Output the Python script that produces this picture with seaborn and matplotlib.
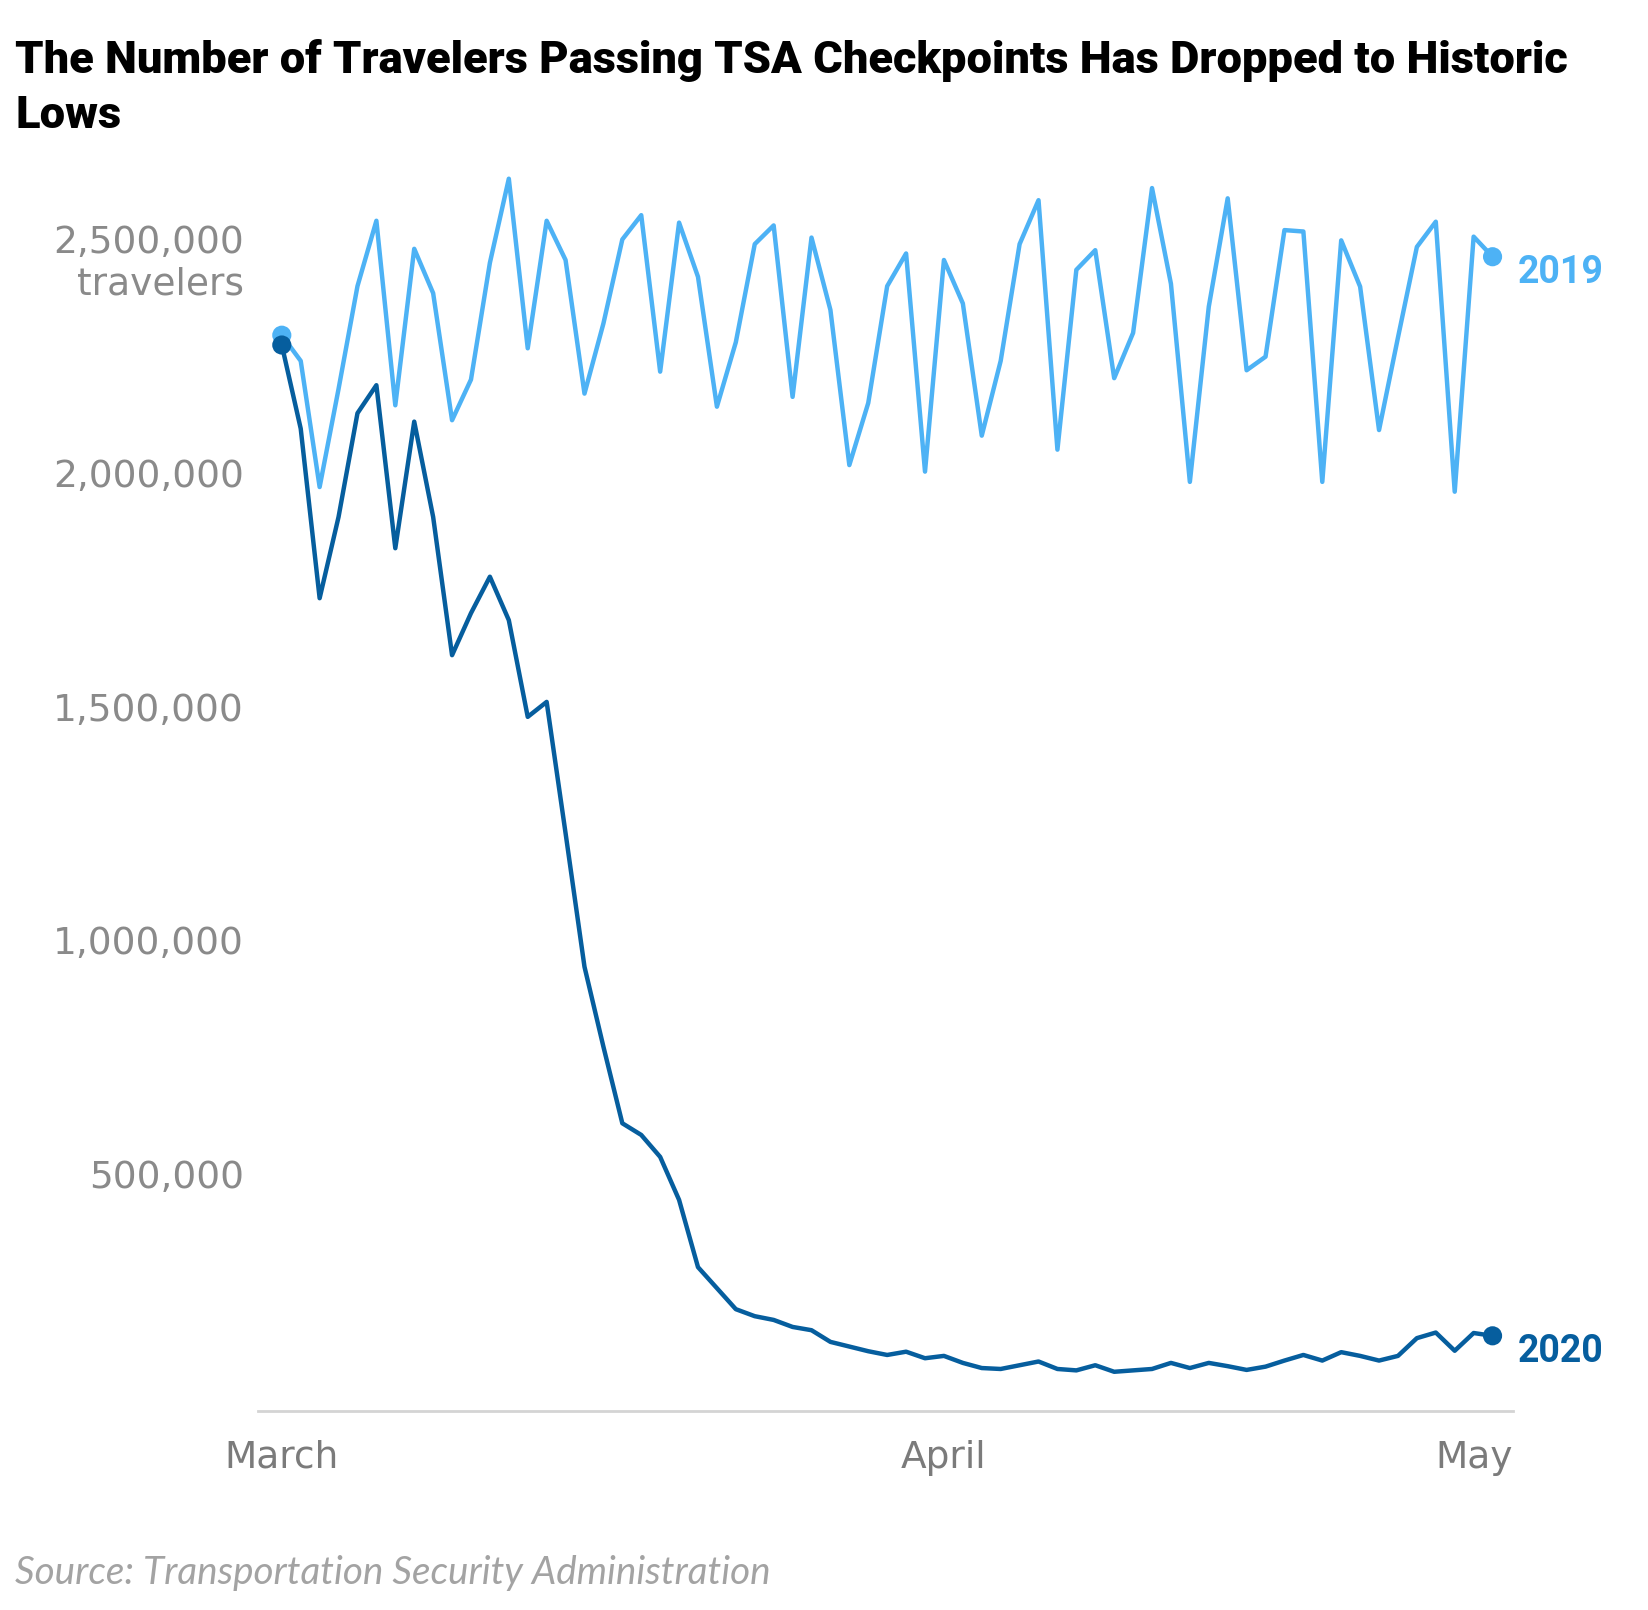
import pandas as pd
import seaborn as sns
import matplotlib.pyplot as plt

# daily TSA checkpoint counts, day 0 = start of March (same weekday a year earlier for 2019)
day_index = list(range(65))
travelers_2019 = [
    2295000, 2240000, 1970000, 2180000, 2400000, 2540000, 2145000, 2480000, 2385000, 2113000,
    2200000, 2450000, 2630000, 2267000, 2540000, 2456000, 2170000, 2320000, 2500000, 2552000,
    2217000, 2536000, 2420000, 2142000, 2280000, 2490000, 2530000, 2163000, 2504000, 2349000,
    2017000, 2150000, 2400000, 2470000, 2003000, 2456000, 2363000, 2080000, 2240000, 2490000,
    2584000, 2050000, 2435000, 2477000, 2203000, 2300000, 2610000, 2405000, 1981000, 2356000,
    2588000, 2220000, 2249000, 2520000, 2517000, 1981000, 2498000, 2399000, 2092000, 2290000,
    2484000, 2538000, 1960000, 2506000, 2463000,
]
travelers_2020 = [
    2274000, 2095000, 1732000, 1906000, 2128000, 2188000, 1839000, 2110000, 1906000, 1610000,
    1700000, 1778000, 1685000, 1478000, 1510000, 1229000, 943000, 772000, 608000, 583000,
    536000, 444000, 300000, 255000, 210000, 195000, 187000, 172000, 165000, 140000,
    130000, 120000, 112000, 119000, 105000, 110000, 95000, 84000, 82000, 90000,
    98000, 82000, 79000, 90000, 76000, 79000, 82000, 95000, 84000, 95000,
    88000, 80000, 87000, 100000, 112000, 100000, 118000, 110000, 100000, 110000,
    148000, 160000, 121000, 159000, 153000,
]
years = ['2019', '2020']
y_ticks = [500000, 1000000, 1500000, 2000000, 2500000]
y_tick_labels = ['500,000', '1,000,000', '1,500,000', '2,000,000', '2,500,000']
month_ticks = [0, 35, 63]
month_labels = ['March', 'April', 'May']

colors = {'2019': '#4db2f5', '2020': '#065e9e'}
grey = '#8a8a8a'

df = pd.DataFrame({
    'day': day_index * 2,
    'travelers': travelers_2019 + travelers_2020,
    'year': ['2019'] * len(day_index) + ['2020'] * len(day_index),
})
ends = pd.concat([df.groupby('year').head(1), df.groupby('year').tail(1)])

sns.set_theme(style='white')
plt.rcParams['font.family'] = ['DejaVu Sans']
plt.rcParams['lines.solid_joinstyle'] = 'round'
plt.rcParams['lines.solid_capstyle'] = 'round'

fig = plt.figure(figsize=(16.48, 16.10), dpi=100)
ax = fig.add_axes([0.1563, 0.1233, 0.9183 - 0.1563, 0.9006 - 0.1233])

sns.lineplot(data=df, x='day', y='travelers', hue='year', palette=colors,
             estimator=None, linewidth=3.2, legend=False, ax=ax)
sns.scatterplot(data=ends, x='day', y='travelers', hue='year', palette=colors,
                s=190, linewidth=0, legend=False, ax=ax, zorder=5)

ax.set_xlim(-1.28, 65.1)
ax.set_ylim(-9000, 2670000)
ax.set_xlabel('')
ax.set_ylabel('')

ax.set_yticks(y_ticks)
ax.set_yticklabels(y_tick_labels)
ax.set_xticks(month_ticks)
ax.set_xticklabels(month_labels)
ax.tick_params(axis='y', length=0, pad=10, labelsize=27, labelcolor=grey)
ax.tick_params(axis='x', length=9.5, width=1.2, color='#d4d4d4', pad=11,
               labelsize=27, labelcolor='#7b7b7b', direction='out')

for side in ['top', 'right', 'left']:
    ax.spines[side].set_visible(False)
ax.spines['bottom'].set_color('#d4d4d4')
ax.spines['bottom'].set_linewidth(2)

ax.annotate('travelers', xy=(0, y_ticks[-1]), xycoords=('axes fraction', 'data'),
            xytext=(-13.5, -45), textcoords='offset pixels', ha='right', va='center',
            fontsize=27, color=grey)

series_end = {'2019': travelers_2019[-1], '2020': travelers_2020[-1]}
for yr in years:
    ax.annotate(yr, xy=(day_index[-1], series_end[yr]), xytext=(25, -16),
                textcoords='offset pixels', ha='left', va='center',
                fontsize=27, fontweight='bold', color=colors[yr],
                family=['Roboto', 'DejaVu Sans'], annotation_clip=False)

title1 = fig.text(15 / 1648, 1 - 73 / 1610,
                  'The Number of Travelers Passing TSA Checkpoints Has Dropped to Historic',
                  ha='left', va='baseline', fontsize=30, fontweight='black',
                  family=['Roboto', 'DejaVu Sans'], color='black')
title2 = fig.text(15 / 1648, 1 - 128 / 1610, 'Lows', ha='left', va='baseline',
                  fontsize=30, fontweight='black', family=['Roboto', 'DejaVu Sans'],
                  color='black')
source = fig.text(15 / 1648, 1 - 1584 / 1610, 'Source: Transportation Security Administration',
                  ha='left', va='baseline', fontsize=24, fontstyle='italic',
                  family=['Lato', 'DejaVu Sans'], color='#a3a3a3')

# fit the title and source widths to the reference
fig.canvas.draw()
renderer = fig.canvas.get_renderer()
w = title1.get_window_extent(renderer).width
new_size = 30 * 1551 / w
title1.set_fontsize(new_size)
title2.set_fontsize(new_size)
w = source.get_window_extent(renderer).width
source.set_fontsize(24 * 755 / w)

fig.savefig('out.png', dpi=100)
